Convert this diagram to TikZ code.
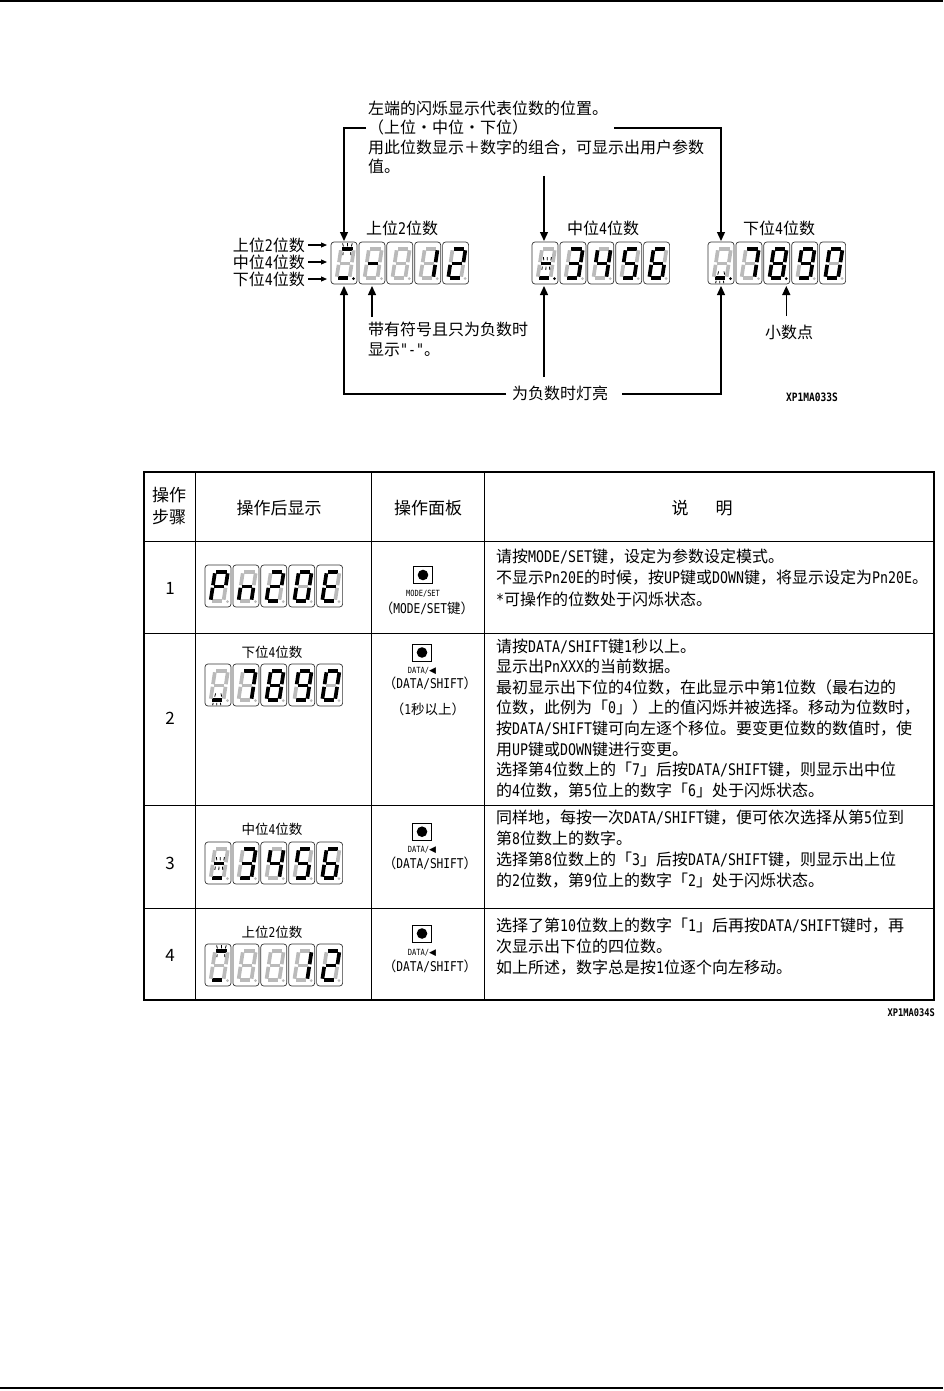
\documentclass[tikz,border=0pt]{standalone}
\usepackage{fontspec}
\setmainfont{Noto Sans CJK SC}
\newfontfamily\hwf[FakeStretch=0.83]{DejaVu Sans Mono}
\newfontfamily\symf{DejaVu Sans}
\usetikzlibrary{arrows.meta}
\newcommand\hw[1]{{\hwf #1}}
\tikzset{
  segon/.style={line width=3.7pt, black, shorten <=1.3pt, shorten >=1.3pt},
  segoff/.style={line width=3.7pt, black!27, shorten <=1.3pt, shorten >=1.3pt},
  dbox/.style={draw=black!80, line width=0.7pt, rounded corners=3pt, minimum width=26pt, minimum height=42pt, inner sep=0pt, outer sep=0pt, anchor=north west},
  tick/.style={line width=0.8pt, black},
  arr/.style={line width=1.3pt, -{Triangle[length=9pt,width=8pt]}},
  sarr/.style={line width=1.1pt, -{Triangle[length=6pt,width=5pt]}},
  t16/.style={inner sep=0pt, font=\fontsize{16}{16}\selectfont},
  t17/.style={inner sep=0pt, font=\fontsize{17}{17}\selectfont},
  t13/.style={inner sep=0pt, font=\fontsize{13.5}{13.5}\selectfont},
  t9/.style={inner sep=0pt, font=\fontsize{8.5}{8.5}\selectfont},
  btn/.style={draw, line width=0.8pt, minimum width=19pt, minimum height=17pt, inner sep=0pt, outer sep=0pt},
  tline/.style={line width=1pt},
}
\newcommand\segdraw[3]{\ifnum#1=1 \draw[segon] (#2)--(#3);\else\draw[segoff] (#2)--(#3);\fi}
\def\segbits#1#2#3#4#5#6#7\relax{\segdraw{#1}{TL}{TR}\segdraw{#2}{TR}{MR}\segdraw{#3}{MR}{BR}\segdraw{#4}{BL}{BR}\segdraw{#5}{ML}{BL}\segdraw{#6}{TL}{ML}\segdraw{#7}{ML}{MR}}
\newcommand\sevenbox[5]{%
 \begin{scope}[shift={(#2,#3)}]
  \node[dbox] (#1) at (0,0) {};
  \coordinate (TL) at (10,7);
  \coordinate (TR) at (22.9,7);
  \coordinate (ML) at (7.8,21.5);
  \coordinate (MR) at (20.7,21.5);
  \coordinate (BL) at (5.6,36);
  \coordinate (BR) at (18.5,36);
  \segbits#4\relax
  \ifnum#5=1 \fill[black] (22.5,36.6) circle (1.5);\else\fill[black!27] (22.5,36.6) circle (1.5);\fi
 \end{scope}}
\newcommand\blinktop[1]{\begin{scope}[shift={(#1.north west)}]
  \draw[tick] (12.4,4.4)--(11.6,1.4) (16.5,4.4)--(16.5,1.2) (20.4,4.4)--(21.2,1.4)
              (12.2,10.4)--(11.8,13.2) (19.6,10.4)--(19.8,13.2);\end{scope}}
\newcommand\blinkmid[1]{\begin{scope}[shift={(#1.north west)}]
  \draw[tick] (11.8,18.4)--(11.4,15.2) (15.3,18.4)--(15.3,15) (18.8,18.4)--(19.4,15.2)
              (10.4,24.6)--(9.8,27.8) (14,24.6)--(13.8,28) (17.4,24.6)--(17.8,27.8);\end{scope}}
\newcommand\blinkbot[1]{\begin{scope}[shift={(#1.north west)}]
  \draw[tick] (9.8,32.6)--(10.6,29.4) (16.6,32.6)--(16,29.4)
              (8.2,38.8)--(7.6,41.2) (11.8,38.8)--(11.7,41.4) (15.4,38.8)--(15.8,41.2);\end{scope}}
\newcommand\button[3]{\node[btn] (#1) at (#2,#3) {}; \fill (#1.center) circle (5.3);}
\newcommand\tlines[5]{\foreach \t [count=\i from 0] in {#5} {\node[t16, anchor=base west] (#1\i) at (#2,{#3+6+\i*#4}) {\t};}}
\begin{document}
\begin{tikzpicture}[x=1pt,y=-1pt]
\useasboundingbox (0,0) rectangle (943,1391);
\draw[line width=2.5pt] (0,1) -- (943,1);
\draw[line width=1.5pt] (0,1388) -- (943,1388);

% ---------------- top explanation ----------------
\tlines{ht}{368}{108.5}{19.3}{左端的闪烁显示代表位数的位置。,（上位・中位・下位）,用此位数显示＋数字的组合，可显示出用户参数,值。}

\node[t16, anchor=base] (lab1) at (402,234) {上位\hw{2}位数};
\node[t16, anchor=base] (lab2) at (603,234) {中位\hw{4}位数};
\node[t16, anchor=base] (lab3) at (779,234) {下位\hw{4}位数};

\node[t16, anchor=base east] (pl1) at (305,251) {上位\hw{2}位数};
\node[t16, anchor=base east] (pl2) at (305,268) {中位\hw{4}位数};
\node[t16, anchor=base east] (pl3) at (305,285) {下位\hw{4}位数};

% group 1 (upper 2 digits)
\sevenbox{g1a}{331}{242}{1001000}{1}
\sevenbox{g1b}{358.9}{242}{0000001}{0}
\sevenbox{g1c}{386.8}{242}{0000000}{0}
\sevenbox{g1d}{414.7}{242}{0110000}{0}
\sevenbox{g1e}{442.6}{242}{1101101}{0}
\blinktop{g1a}
% group 2 (middle 4 digits)
\sevenbox{g2a}{532}{242}{0001001}{1}
\sevenbox{g2b}{559.9}{242}{1111001}{0}
\sevenbox{g2c}{587.8}{242}{0110011}{0}
\sevenbox{g2d}{615.7}{242}{1011011}{0}
\sevenbox{g2e}{643.6}{242}{1011111}{0}
\blinkmid{g2a}
% group 3 (lower 4 digits)
\sevenbox{g3a}{708}{242}{0001000}{1}
\sevenbox{g3b}{735.9}{242}{1110000}{0}
\sevenbox{g3c}{763.8}{242}{1111111}{1}
\sevenbox{g3d}{791.7}{242}{1111011}{0}
\sevenbox{g3e}{819.6}{242}{1111110}{0}
\blinkbot{g3a}

\draw[sarr] ([xshift=3pt]pl1.east |- 0,245) -- ([xshift=-4pt]g1a.west |- 0,245);
\draw[sarr] ([xshift=3pt]pl2.east |- 0,262) -- ([xshift=-4pt]g1a.west |- 0,262);
\draw[sarr] ([xshift=3pt]pl3.east |- 0,279) -- ([xshift=-4pt]g1a.west |- 0,279);

\coordinate (brL) at (366,128);
\coordinate (brR) at (614,128);
\coordinate (mdt) at (544,176);
\draw[arr, shorten >=1pt] (brL) -| (g1a.north);
\draw[arr, shorten >=1pt] (mdt) -- (mdt |- g2a.north);
\draw[arr, shorten >=1pt] (brR) -| (g3a.north);

% bottom annotations
\node[t16, anchor=base west] (sg1) at (368,335) {带有符号且只为负数时};
\node[t16, anchor=base west] (sg2) at (368,355) {显示\hw{"-"}。};
\node[t16, anchor=base] (dpl) at (789,338) {小数点};
\node[t16, anchor=base] (neg) at (560,399) {为负数时灯亮};
\coordinate (negL) at (506,394);
\coordinate (negR) at (622,394);
\coordinate (negM) at (544,377);
\coordinate (sgt) at (372,317);
\coordinate (dpt) at (786.3,316);
\draw[arr, shorten >=2pt] (negL) -| (g1a.south);
\draw[arr, shorten >=2pt] (negR) -| (g3a.south);
\draw[arr, shorten >=2pt] (negM) -- (negM |- g2a.south);
\draw[arr, shorten >=2pt] (sgt) -- (sgt |- g1b.south);
\draw[arr, shorten >=2pt] (dpt) -- (dpt |- g3c.south);
\node[inner sep=0pt, anchor=base west, font=\fontsize{11.5}{11.5}\selectfont\hwf\bfseries] (id1) at (786,401) {XP1MA033S};

% ---------------- table ----------------
\draw[line width=2pt] (144,472) rectangle (934,1000);
\draw[tline] (195,472)--(195,1000) (371,472)--(371,1000) (484,472)--(484,1000);
\draw[tline] (144,541)--(934,541) (144,633)--(934,633) (144,805)--(934,805) (144,908)--(934,908);

\node[t17, anchor=base] (h1a) at (169,501) {操作};
\node[t17, anchor=base] (h1b) at (169,523) {步骤};
\node[t17, anchor=base] (h2) at (279,514) {操作后显示};
\node[t17, anchor=base] (h3) at (428,514) {操作面板};
\node[t17, anchor=base] (h4a) at (680,514) {说};
\node[t17, anchor=base] (h4b) at (724,514) {明};

\node[t17, anchor=base] (n1) at (170,594) {1};
\node[t17, anchor=base] (n2) at (170,724) {2};
\node[t17, anchor=base] (n3) at (170,869) {3};
\node[t17, anchor=base] (n4) at (170,961) {4};

% row 1
\sevenbox{r1a}{205}{565}{1100111}{0}
\sevenbox{r1b}{232.9}{565}{0010101}{0}
\sevenbox{r1c}{260.8}{565}{1101101}{0}
\sevenbox{r1d}{288.7}{565}{1111110}{0}
\sevenbox{r1e}{316.6}{565}{1001111}{0}
% row 2
\node[t13, anchor=base] (r2l) at (272,657) {下位\hw{4}位数};
\sevenbox{r2a}{205}{664}{0001000}{0}
\sevenbox{r2b}{232.9}{664}{1110000}{0}
\sevenbox{r2c}{260.8}{664}{1111111}{0}
\sevenbox{r2d}{288.7}{664}{1111011}{0}
\sevenbox{r2e}{316.6}{664}{1111110}{0}
\blinkbot{r2a}
% row 3
\node[t13, anchor=base] (r3l) at (272,834) {中位\hw{4}位数};
\sevenbox{r3a}{205}{842}{0001001}{0}
\sevenbox{r3b}{232.9}{842}{1111001}{0}
\sevenbox{r3c}{260.8}{842}{0110011}{0}
\sevenbox{r3d}{288.7}{842}{1011011}{0}
\sevenbox{r3e}{316.6}{842}{1011111}{0}
\blinkmid{r3a}
% row 4
\node[t13, anchor=base] (r4l) at (272,937) {上位\hw{2}位数};
\sevenbox{r4a}{205}{944}{1001000}{0}
\sevenbox{r4b}{232.9}{944}{0000000}{0}
\sevenbox{r4c}{260.8}{944}{0000000}{0}
\sevenbox{r4d}{288.7}{944}{0110000}{0}
\sevenbox{r4e}{316.6}{944}{1101101}{0}
\blinktop{r4a}

% panel column
\button{b1}{423}{575}
\node[t9, anchor=base] (b1t) at (423,596) {\hwf MODE/SET};
\node[t13, anchor=base] (b1u) at (427,613) {（\hw{MODE/SET}键）};
\button{b2}{422}{652.5}
\node[t9, anchor=base] (b2t) at (422,673) {\hwf DATA/{\symf\fontsize{9}{9}\selectfont ◀}};
\node[t13, anchor=base] (b2u) at (430,688.5) {（\hw{DATA/SHIFT}）};
\node[t13, anchor=base] (b2v) at (428,714) {（\hw{1}秒以上）};
\button{b3}{422}{831.7}
\node[t9, anchor=base] (b3t) at (422,852) {\hwf DATA/{\symf\fontsize{9}{9}\selectfont ◀}};
\node[t13, anchor=base] (b3u) at (430,868) {（\hw{DATA/SHIFT}）};
\button{b4}{422}{933.5}
\node[t9, anchor=base] (b4t) at (422,955) {\hwf DATA/{\symf\fontsize{9}{9}\selectfont ◀}};
\node[t13, anchor=base] (b4u) at (430,971) {（\hw{DATA/SHIFT}）};

% descriptions
\tlines{d1}{496}{556}{21.5}{请按\hw{MODE/SET}键，设定为参数设定模式。,不显示\hw{Pn20E}的时候，按\hw{UP}键或\hw{DOWN}键，将显示设定为\hw{Pn20E}。,\hw{*}可操作的位数处于闪烁状态。}
\tlines{d2}{496}{646}{20.6}{请按\hw{DATA/SHIFT}键\hw{1}秒以上。,显示出\hw{PnXXX}的当前数据。,最初显示出下位的\hw{4}位数，在此显示中第\hw{1}位数（最右边的,位数，此例为「\hw{0}」）上的值闪烁并被选择。移动为位数时，,按\hw{DATA/SHIFT}键可向左逐个移位。要变更位数的数值时，使,用\hw{UP}键或\hw{DOWN}键进行变更。,选择第\hw{4}位数上的「\hw{7}」后按\hw{DATA/SHIFT}键，则显示出中位,的\hw{4}位数，第\hw{5}位上的数字「\hw{6}」处于闪烁状态。}
\tlines{d3}{496}{817}{21}{同样地，每按一次\hw{DATA/SHIFT}键，便可依次选择从第\hw{5}位到,第\hw{8}位数上的数字。,选择第\hw{8}位数上的「\hw{3}」后按\hw{DATA/SHIFT}键，则显示出上位,的\hw{2}位数，第\hw{9}位上的数字「\hw{2}」处于闪烁状态。}
\tlines{d4}{496}{925}{21}{选择了第\hw{10}位数上的数字「\hw{1}」后再按\hw{DATA/SHIFT}键时，再,次显示出下位的四位数。,如上所述，数字总是按\hw{1}位逐个向左移动。}

\node[inner sep=0pt, anchor=base east, font=\fontsize{10.5}{10.5}\selectfont\hwf\bfseries] (id2) at (935,1016) {XP1MA034S};
\end{tikzpicture}
\end{document}
